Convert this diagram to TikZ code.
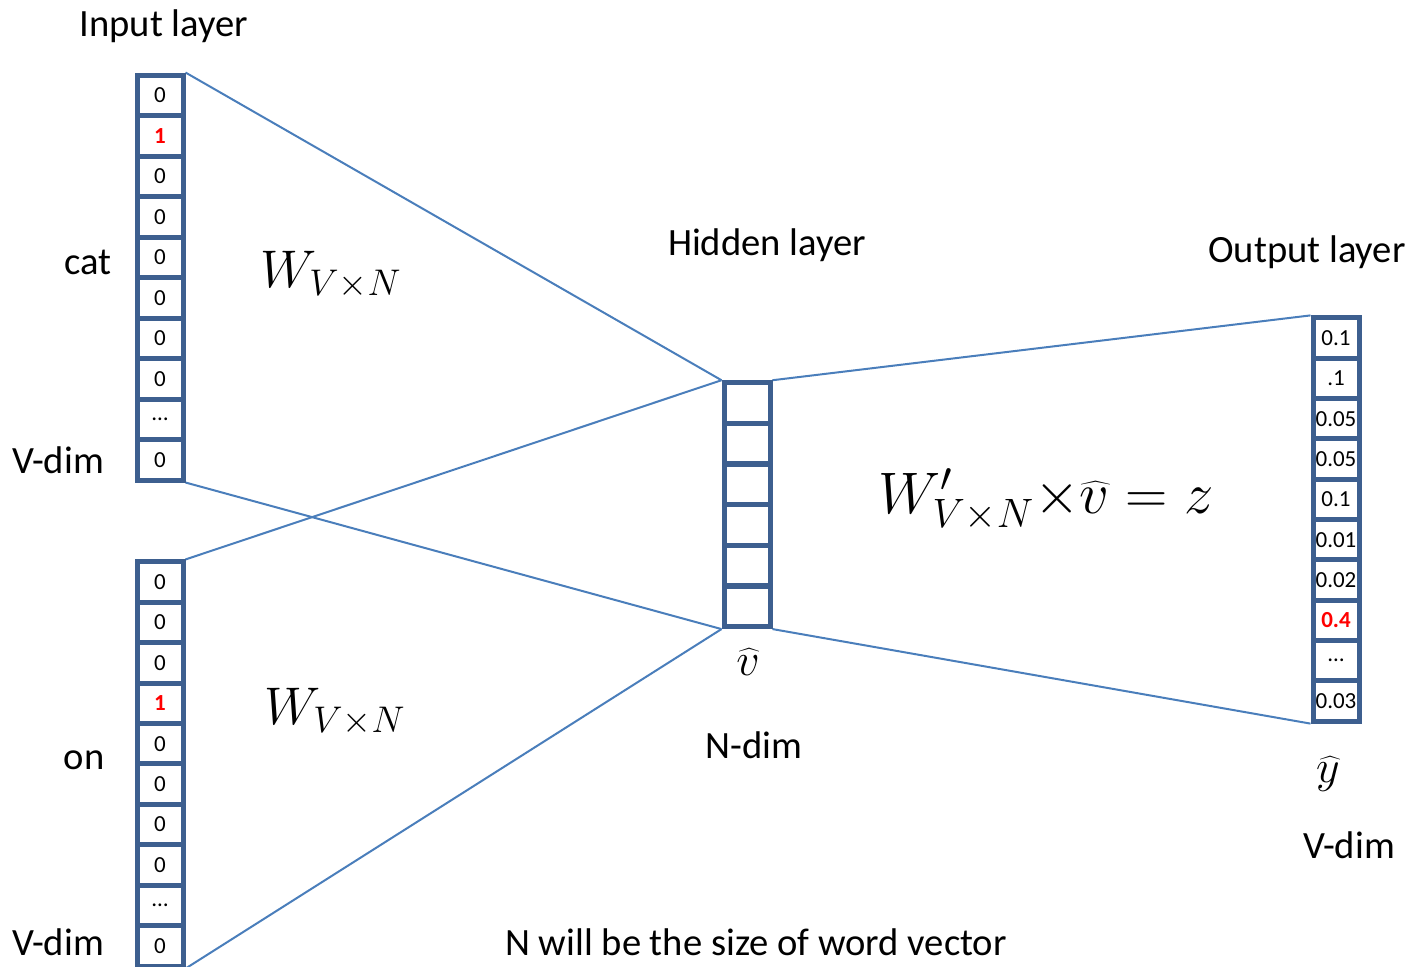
\RequirePackage{fix-cm}
\documentclass[tikz,border=0pt]{standalone}
\usepackage{fontspec}
\setmainfont{Carlito}
\usetikzlibrary{positioning,backgrounds}
\definecolor{cellblue}{HTML}{3D5F8F}
\definecolor{wireblue}{HTML}{4A7EBB}
\definecolor{hotred}{HTML}{FF0000}

\begin{document}
\begin{tikzpicture}[
  x=0.5pt, y=-0.5pt,
  cell/.style={draw=cellblue, line width=2.5pt, fill=white, minimum width=23pt,
               minimum height=20.25pt, inner sep=0pt,
               font=\fontsize{11.5}{13}\selectfont},
  wire/.style={wireblue, line width=1pt},
  lbl/.style={font=\fontsize{19.3}{23}\selectfont, inner sep=0pt},
  hatlbl/.style={font=\fontsize{23}{28}\selectfont, inner sep=0pt},
  bigmath/.style={font=\fontsize{26.5}{32}\selectfont, inner sep=0pt},
]

\def\hot#1{\textbf{\color{hotred}#1}}

\useasboundingbox (0,0) rectangle (1410,966);

% ---------------- input one-hot vectors -----------------------------
\foreach \v [count=\i] in {0,\hot{1},0,0,0,0,0,0,\dots,0}
  \node[cell] (a\i) at (160, 54.75+40.5*\i) {\v};
\foreach \v [count=\i] in {0,0,0,\hot{1},0,0,0,0,\dots,0}
  \node[cell] (b\i) at (160, 541.8+40.4*\i) {\v};

% ---------------- hidden layer --------------------------------------
\foreach \i in {1,...,6}
  \node[cell] (h\i) at (747, 362.3+40.67*\i) {};

% ---------------- output layer --------------------------------------
\foreach \v [count=\i] in {0.1,.1,0.05,0.05,0.1,0.01,0.02,\hot{0.4},\dots,0.03}
  \node[cell] (y\i) at (1336, 297.85+40.3*\i) {\v};

% ---------------- wires ---------------------------------------------
\begin{scope}[on background layer]
  \draw[wire] (a1.north east) -- (h1.north west);
  \draw[wire] (a10.south east) -- (h6.south west);
  \draw[wire] (b1.north east) -- (h1.north west);
  \draw[wire] (b10.south east) -- (h6.south west);
  \draw[wire] (h1.north east) -- (y1.north west);
  \draw[wire] (h6.south east) -- (y10.south west);
\end{scope}

% ---------------- labels --------------------------------------------
\node[lbl] (inlbl) at (164,26) {Input layer};
\node[lbl, anchor=east] (cat) at (112,262) {cat};
\node[lbl] (vdima) at (58,460) {V-dim};
\node[lbl, anchor=east] (on) at (105,760) {on};
\node[lbl] (vdimb) at (58,942) {V-dim};
\node[bigmath] (wa) at (331,275) {$W_{V\times N}$};
\node[bigmath] (wb) at (335,712) {$W_{V\times N}$};

\node[lbl] (hidlbl) at (767,245) {Hidden layer};
\node[hatlbl] (vhat) at (748,662) {$\widehat{v}$};
\node[lbl] (ndim) at (754,745) {N-dim};

\node[bigmath, font=\fontsize{29.3}{35}\selectfont] (eq) at (1046,500)
  {$W'_{V\times N}{\times}\widehat{v} = z$};

\node[lbl] (outlbl) at (1307,252) {Output layer};
\node[hatlbl] (yhat) at (1328,774) {$\widehat{y}$};
\node[lbl] (vdimc) at (1349,845) {V-dim};

\node[lbl] (note) at (756,942) {N will be the size of word vector};

\end{tikzpicture}
\end{document}
